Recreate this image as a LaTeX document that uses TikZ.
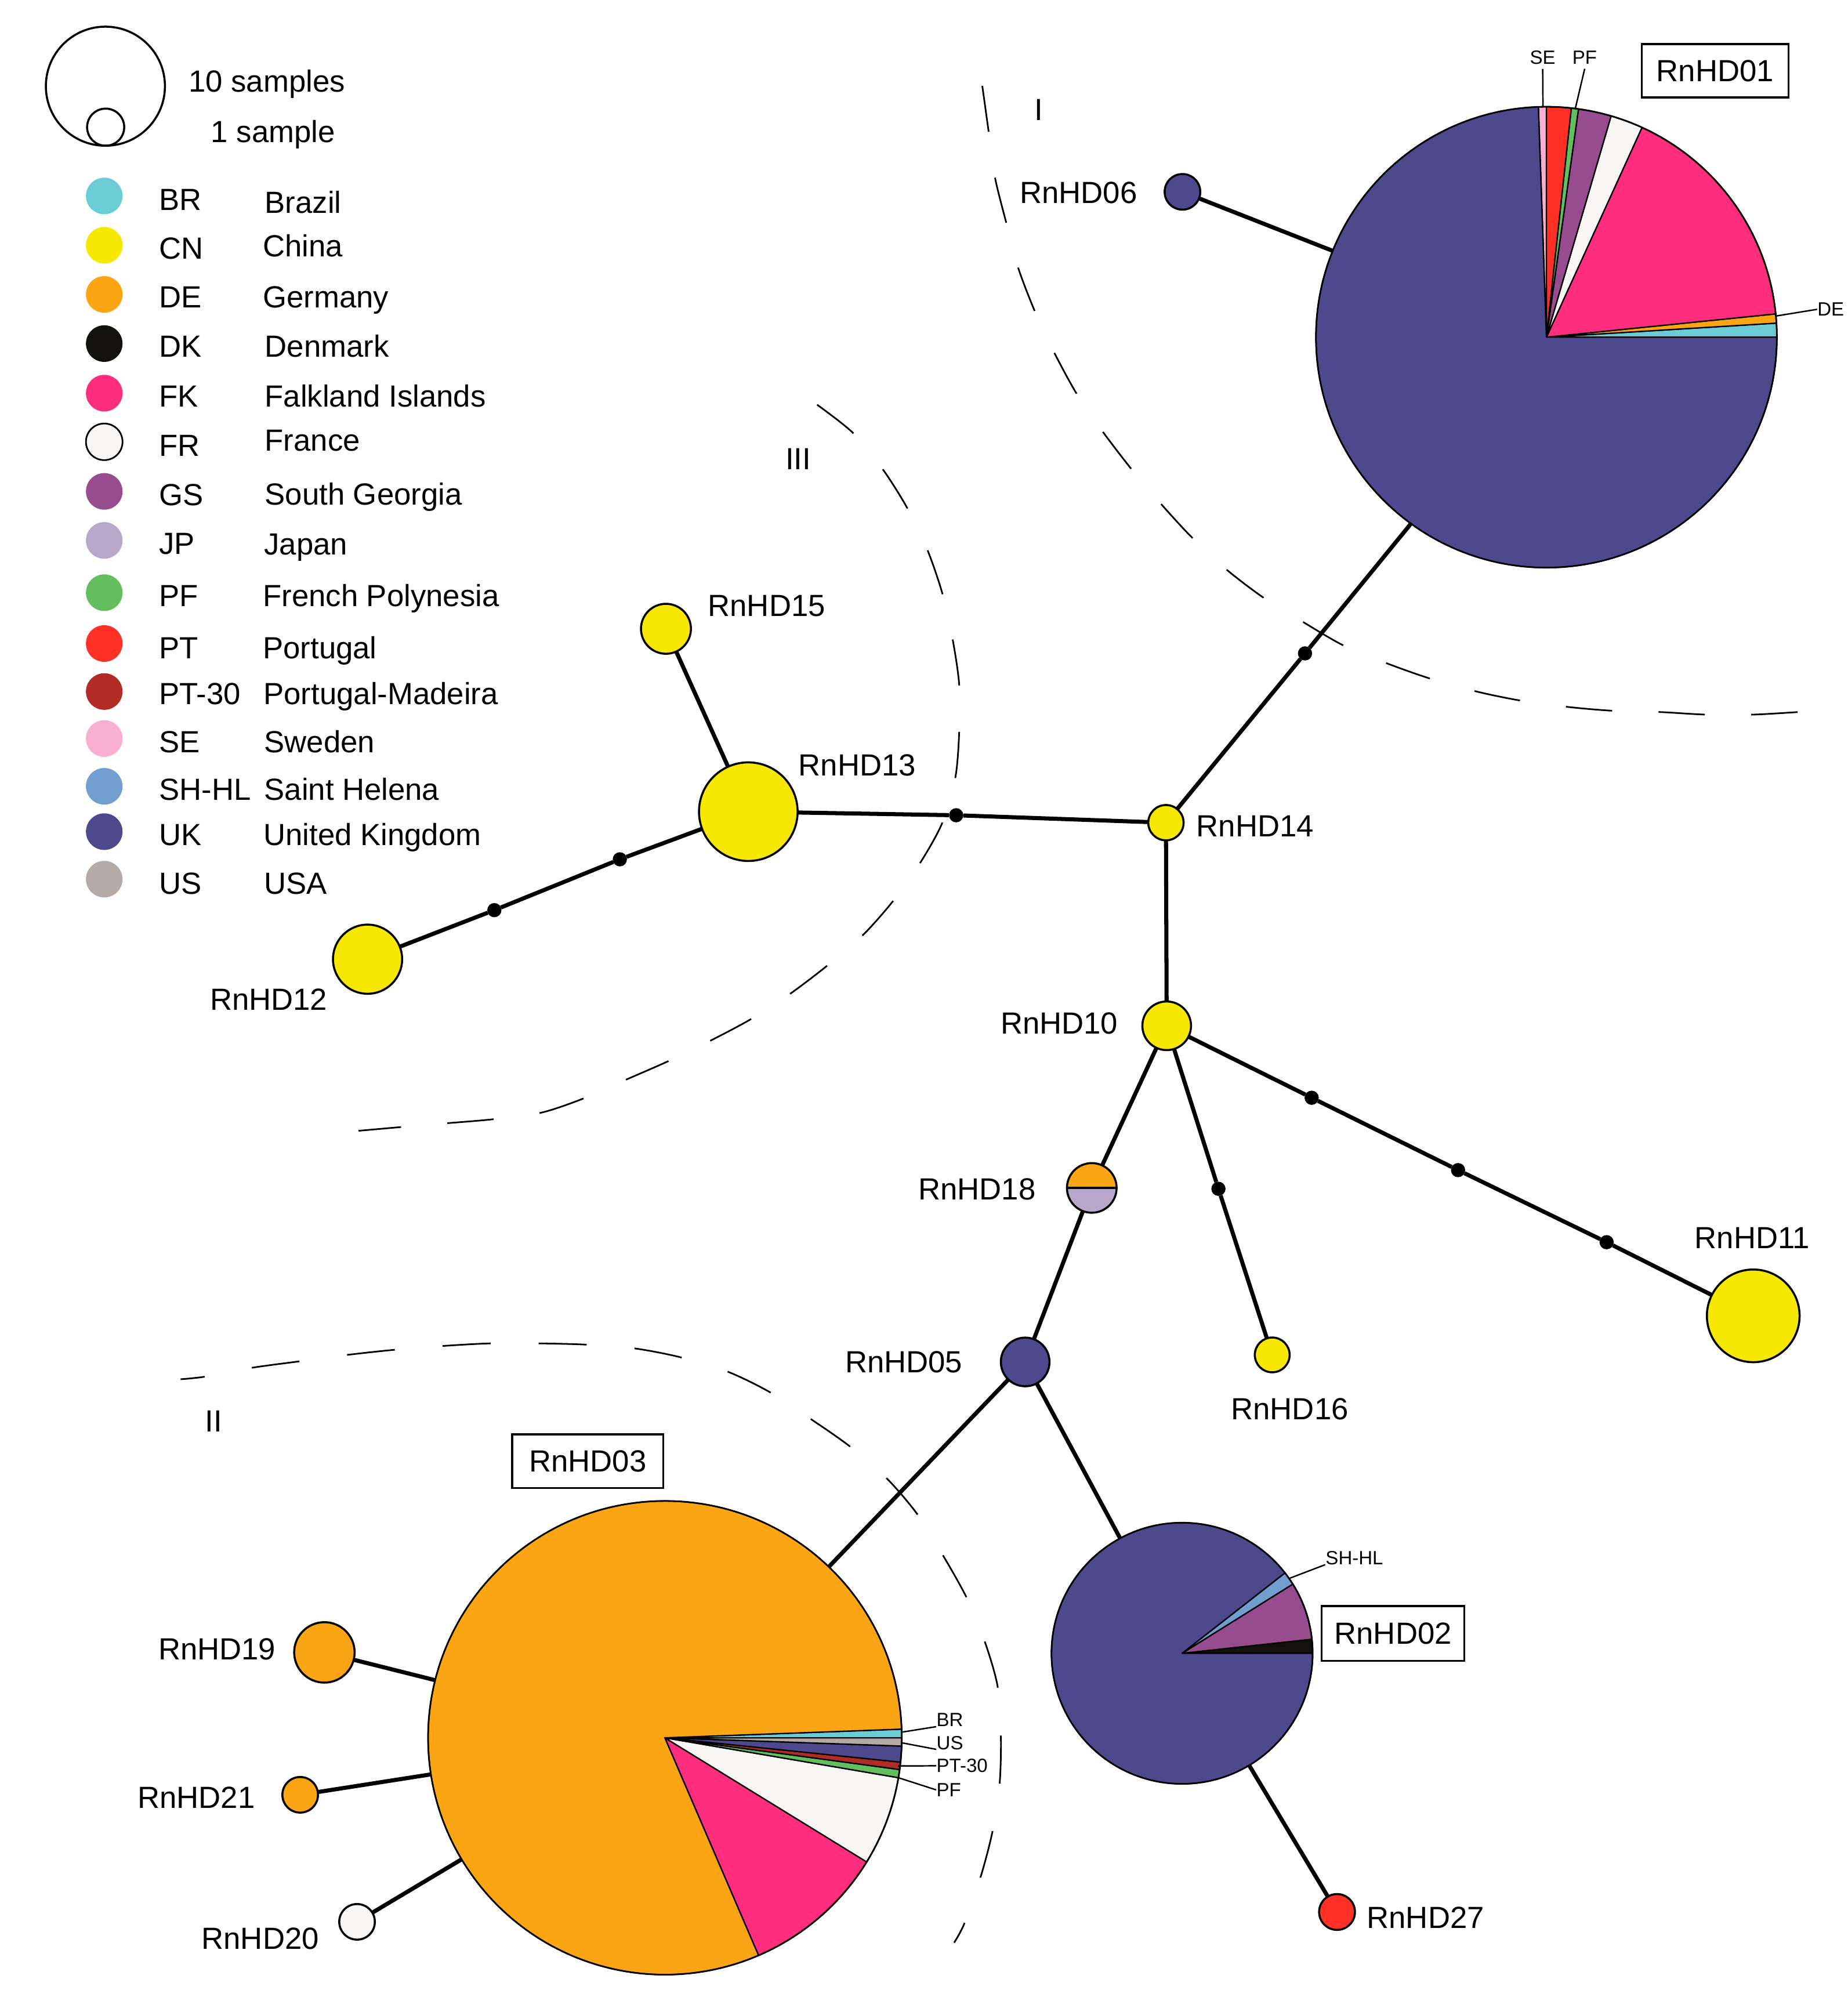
\documentclass[tikz,border=0pt]{standalone}
\usepackage{fontspec}
\setmainfont{Liberation Sans}
\definecolor{cBR}{HTML}{6BCCD6}
\definecolor{cCN}{HTML}{F7E800}
\definecolor{cDE}{HTML}{FBA414}
\definecolor{cDK}{HTML}{12110D}
\definecolor{cFK}{HTML}{FF2D7D}
\definecolor{cFR}{HTML}{F8F5F5}
\definecolor{cGS}{HTML}{974C8F}
\definecolor{cJP}{HTML}{B9A6CB}
\definecolor{cPF}{HTML}{63BF5D}
\definecolor{cPT}{HTML}{FF3026}
\definecolor{cPTM}{HTML}{B22B24}
\definecolor{cSE}{HTML}{F7AFD0}
\definecolor{cSH}{HTML}{6F9ECF}
\definecolor{cUK}{HTML}{4C4A8C}
\definecolor{cUS}{HTML}{B6AAA6}
\newcommand{\pslice}[5]{\filldraw[pieline, fill=#5] (#1) -- ++(#3:#2) arc[start angle=#3, end angle=#4, radius=#2] -- cycle;}
\begin{document}
\begin{tikzpicture}[x=0.022072cm, y=-0.022072cm,
  hap/.style={circle, draw=black, line width=1pt, inner sep=0pt, outer sep=0pt},
  mut/.style={circle, fill=black, inner sep=0pt, outer sep=0pt, minimum size=0.245cm},
  edge/.style={line width=2pt},
  lbl/.style={font=\fontsize{15pt}{18pt}\selectfont, inner sep=0pt, anchor=base west},
  lble/.style={font=\fontsize{15pt}{18pt}\selectfont, inner sep=0pt, anchor=base east},
  slbl/.style={font=\fontsize{9.4pt}{11pt}\selectfont, inner xsep=0pt, inner ysep=2pt, anchor=base west},
  hdbox/.style={draw=black, line width=1pt, font=\fontsize{15pt}{18pt}\selectfont, inner sep=0pt},
  arcdash/.style={line width=0.8pt, dash pattern=on 0.80cm off 0.80cm},
  lead/.style={line width=0.7pt},
  pieline/.style={draw=black, line width=0.65pt, line join=round},
  legc/.style={circle, inner sep=0pt, outer sep=0pt, minimum size=0.631cm}]

% canvas
\fill[white] (0,0) rectangle (1443,1568);
\useasboundingbox (0,0) rectangle (1443,1568);

% ---------- dashed group boundaries ----------
\draw[arcdash] plot[smooth, tension=0.5] coordinates {(767,67) (772,103) (777,139) (786,175) (795,209) (808,243) (823,275) (841,308) (861,337) (884,367) (907,394) (931,420) (958,445) (987,467) (1018,486) (1049,504) (1083,518) (1117,530) (1153,540) (1187,547) (1224,552) (1259,555) (1296,556) (1332,558) (1369,558) (1404,556)};
\draw[arcdash] plot[smooth, tension=0.5] coordinates {(638,316) (666,338) (689,366) (708,396) (724,429) (736,464) (744,500) (749,535) (749,571) (746,607) (736,642) (719,673) (697,704) (673,731) (646,754) (617,776) (586,796) (554,813) (521,829) (489,843) (455,858) (422,869) (385,874) (350,877) (314,880) (280,883)};
\draw[arcdash, dash pattern=on 0.828cm off 0.828cm, dash phase=0.41cm] plot[smooth, tension=0.5] coordinates {(141,1077) (160,1075) (197,1068) (234,1063) (271,1058) (308,1054) (346,1051) (383,1049) (420,1049) (458,1050) (496,1053) (532,1060) (568,1071) (601,1087) (633,1108) (663,1129) (692,1154) (716,1182) (736,1214) (755,1248) (769,1282) (779,1317) (781.5,1354) (780.6,1392) (775,1430) (765.6,1466) (753,1502) (745,1517)};

\node[lbl] (gI) at (807.3,93.8) {I};
\node[lbl] (gIII) at (613,366.7) {III};
\node[lbl] (gII) at (160,1118.2) {II};

% ---------- legend ----------
\node[circle, draw=black, line width=1pt, inner sep=0pt, minimum size=2.053cm] (leg10) at (82.3,67.3) {};
\node[circle, draw=black, line width=1pt, inner sep=0pt, minimum size=0.640cm] (leg1) at (82.5,99.3) {};
\node[lbl] (t10) at (147,71.8) {10 samples};
\node[lbl] (t1) at (164.5,111.2) {1 sample};

\node[legc, fill=cBR] (lcBR) at (81.4,153) {};
\node[lbl] (kBR) at (124,164) {BR};
\node[lbl] (nBR) at (206.5,166.3) {Brazil};
\node[legc, fill=cCN] (lcCN) at (81.4,191.5) {};
\node[lbl] (kCN) at (124,202.3) {CN};
\node[lbl] (nCN) at (205,200.3) {China};
\node[legc, fill=cDE] (lcDE) at (81.4,229.9) {};
\node[lbl] (kDE) at (124,240.3) {DE};
\node[lbl] (nDE) at (205,240.3) {Germany};
\node[legc, fill=cDK] (lcDK) at (81.4,268.3) {};
\node[lbl] (kDK) at (124,278.7) {DK};
\node[lbl] (nDK) at (206.5,278.7) {Denmark};
\node[legc, fill=cFK] (lcFK) at (81.4,307) {};
\node[lbl] (kFK) at (124,317.5) {FK};
\node[lbl] (nFK) at (206.5,317.5) {Falkland Islands};
\node[legc, fill=cFR, draw=black, line width=0.8pt] (lcFR) at (81.4,345) {};
\node[lbl] (kFR) at (124,356.2) {FR};
\node[lbl] (nFR) at (206.5,352.3) {France};
\node[legc, fill=cGS] (lcGS) at (81.4,383.7) {};
\node[lbl] (kGS) at (124,394.6) {GS};
\node[lbl] (nGS) at (206.5,394.3) {South Georgia};
\node[legc, fill=cJP] (lcJP) at (81.4,422) {};
\node[lbl] (kJP) at (124,432.9) {JP};
\node[lbl] (nJP) at (206,433) {Japan};
\node[legc, fill=cPF] (lcPF) at (81.4,462.8) {};
\node[lbl] (kPF) at (124,473.7) {PF};
\node[lbl] (nPF) at (205,473.7) {French Polynesia};
\node[legc, fill=cPT] (lcPT) at (81.4,502.5) {};
\node[lbl] (kPT) at (124,514.3) {PT};
\node[lbl] (nPT) at (205,514.3) {Portugal};
\node[legc, fill=cPTM] (lcPTM) at (81.4,540) {};
\node[lbl] (kPTM) at (124,550) {PT-30};
\node[lbl] (nPTM) at (205.5,550) {Portugal-Madeira};
\node[legc, fill=cSE] (lcSE) at (81.4,576.7) {};
\node[lbl] (kSE) at (124,587.6) {SE};
\node[lbl] (nSE) at (206,587.6) {Sweden};
\node[legc, fill=cSH] (lcSH) at (81.4,614) {};
\node[lbl] (kSH) at (124,624.8) {SH-HL};
\node[lbl] (nSH) at (206,624.8) {Saint Helena};
\node[legc, fill=cUK] (lcUK) at (81.4,649.4) {};
\node[lbl] (kUK) at (124,660) {UK};
\node[lbl] (nUK) at (205.5,660) {United Kingdom};
\node[legc, fill=cUS] (lcUS) at (81.4,686.5) {};
\node[lbl] (kUS) at (124,698.2) {US};
\node[lbl] (nUS) at (206,698.2) {USA};

% ---------- RnHD01 pie ----------
\coordinate (c01) at (1207.5,263.3);
\pslice{c01}{3.973cm}{0}{3.5}{cBR}
\pslice{c01}{3.973cm}{3.5}{5.8}{cDE}
\pslice{c01}{3.973cm}{5.8}{65.5}{cFK}
\pslice{c01}{3.973cm}{65.5}{73.7}{cFR}
\pslice{c01}{3.973cm}{73.7}{82}{cGS}
\pslice{c01}{3.973cm}{82}{83.8}{cPF}
\pslice{c01}{3.973cm}{83.8}{90}{cPT}
\pslice{c01}{3.973cm}{90}{92}{cSE}
\pslice{c01}{3.973cm}{92}{360}{cUK}
\node[hap, line width=0.8pt, minimum size=7.946cm] (n01) at (c01) {};

% ---------- RnHD03 pie ----------
\coordinate (c03) at (519.2,1357);
\pslice{c03}{4.083cm}{0}{2.1}{cBR}
\pslice{c03}{4.083cm}{2.1}{293.3}{cDE}
\pslice{c03}{4.083cm}{293.3}{328.4}{cFK}
\pslice{c03}{4.083cm}{328.4}{350.3}{cFR}
\pslice{c03}{4.083cm}{350.3}{352.3}{cPF}
\pslice{c03}{4.083cm}{352.3}{354.1}{cPTM}
\pslice{c03}{4.083cm}{354.1}{358}{cUK}
\pslice{c03}{4.083cm}{358}{360}{cUS}
\node[hap, line width=0.8pt, minimum size=8.167cm] (n03) at (c03) {};

% ---------- RnHD02 pie ----------
\coordinate (c02) at (923,1291);
\pslice{c02}{2.251cm}{0}{6.2}{cDK}
\pslice{c02}{2.251cm}{6.2}{32}{cGS}
\pslice{c02}{2.251cm}{32}{38}{cSH}
\pslice{c02}{2.251cm}{38}{360}{cUK}
\node[hap, line width=0.8pt, minimum size=4.503cm] (n02) at (c02) {};

% ---------- small haplotypes ----------
\node[hap, fill=cUK, minimum size=0.614cm] (n06) at (923.3,149.8) {};
\node[hap, fill=cCN, minimum size=0.609cm] (n14) at (910.4,642.4) {};
\node[hap, fill=cCN, minimum size=1.700cm] (n13) at (584.3,633.8) {};
\node[hap, fill=cCN, minimum size=0.861cm] (n15) at (520,491) {};
\node[hap, fill=cCN, minimum size=1.192cm] (n12) at (287,749) {};
\node[hap, fill=cCN, minimum size=0.839cm] (n10) at (911,801) {};
\node[hap, fill=cCN, minimum size=1.598cm] (n11) at (1369,1027.5) {};
\node[hap, fill=cCN, minimum size=0.600cm] (n16) at (993.4,1058) {};
\node[hap, minimum size=0.856cm, path picture={
  \fill[cDE] (path picture bounding box.north west) rectangle (path picture bounding box.east);
  \fill[cJP] (path picture bounding box.west) rectangle (path picture bounding box.south east);
  \draw[line width=1pt] (path picture bounding box.west) -- (path picture bounding box.east);
}] (n18) at (852.5,927.6) {};
\node[hap, fill=cUK, minimum size=0.839cm] (n05) at (800.5,1063.5) {};
\node[hap, fill=cPT, minimum size=0.618cm] (n27) at (1044,1493) {};
\node[hap, fill=cDE, minimum size=1.042cm] (n19) at (253.3,1290.3) {};
\node[hap, fill=cDE, minimum size=0.614cm] (n21) at (234.4,1401.5) {};
\node[hap, fill=cFR, minimum size=0.614cm] (n20) at (278.8,1500.7) {};

% ---------- mutation steps ----------
\node[mut] (m1) at (1019,510.2) {};
\node[mut] (m2) at (746.6,636.6) {};
\node[mut] (m3) at (386,710.7) {};
\node[mut] (m4) at (484,671) {};
\node[mut] (m5) at (1024.2,857.2) {};
\node[mut] (m6) at (1138.5,913.7) {};
\node[mut] (m7) at (1254.5,970) {};
\node[mut] (m8) at (951.4,928.3) {};

% ---------- edges ----------
\draw[edge] (n06) -- (n01.158.1);
\draw[edge] (n14) -- (m1) -- (n01.234.5);
\draw[edge] (n13) -- (m2) -- (n14);
\draw[edge] (n15) -- (n13);
\draw[edge] (n12) -- (m3) -- (m4) -- (n13);
\draw[edge] (n14) -- (n10);
\draw[edge] (n10) -- (m5) -- (m6) -- (m7) -- (n11);
\draw[edge] (n10) -- (m8) -- (n16);
\draw[edge] (n10) -- (n18);
\draw[edge] (n18) -- (n05);
\draw[edge] (n05) -- (n03);
\draw[edge] (n05) -- (n02);
\draw[edge] (n02) -- (n27);
\draw[edge] (n19) -- (n03);
\draw[edge] (n21) -- (n03);
\draw[edge] (n20) -- (n03);

% ---------- haplotype labels ----------
\node[lbl] (l06) at (796,158.6) {RnHD06};
\node[lbl] (l15) at (552.5,481) {RnHD15};
\node[lbl] (l13) at (623.3,605.7) {RnHD13};
\node[lbl] (l12) at (163.7,788.7) {RnHD12};
\node[lbl] (l14) at (934,653.5) {RnHD14};
\node[lbl] (l10) at (781,807.5) {RnHD10};
\node[lble] (l18) at (809,937) {RnHD18};
\node[lbl] (l16) at (961,1108.7) {RnHD16};
\node[lbl] (l11) at (1323,975) {RnHD11};
\node[lbl] (l05) at (659.6,1072) {RnHD05};
\node[lbl] (l27) at (1067,1505.5) {RnHD27};
\node[lbl] (l19) at (123.4,1296.2) {RnHD19};
\node[lbl] (l21) at (107.2,1412) {RnHD21};
\node[lbl] (l20) at (157.1,1522.2) {RnHD20};

\node[hdbox, minimum width=2.527cm, minimum height=0.916cm] (b01) at (1339.25,55.25) {RnHD01};
\node[hdbox, minimum width=2.605cm, minimum height=0.927cm] (b03) at (459,1141) {RnHD03};
\node[hdbox, minimum width=2.461cm, minimum height=0.949cm] (b02) at (1087.75,1275.5) {RnHD02};

% ---------- slice labels ----------
\node[slbl] (sSE) at (1194.3,50.2) {SE};
\node[slbl] (sPF1) at (1227.5,50.2) {PF};
\node[slbl] (sDE) at (1418.8,246.7) {DE};
\coordinate (pSE) at (1204.8,83.4);
\coordinate (pPF1) at (1230,85);
\coordinate (pDE) at (1387.2,246.7);
\draw[lead] (sSE.south) -- (pSE);
\draw[lead] (sPF1.south) -- (pPF1);
\draw[lead] (sDE.west) -- (pDE);

\node[slbl] (sBR) at (731,1348.3) {BR};
\node[slbl] (sUS) at (731,1366) {US};
\node[slbl] (sPT) at (731,1384) {PT-30};
\node[slbl] (sPF3) at (731,1402.8) {PF};
\coordinate (pBR) at (704,1352.6);
\coordinate (pUS) at (704.7,1361);
\coordinate (pPT) at (701.2,1379);
\coordinate (pPF3) at (701,1388);
\draw[lead] (sBR.base west) -- (pBR);
\draw[lead] (sUS.base west) -- (pUS);
\draw[lead] (sPT.west) -- (pPT);
\draw[lead] (sPF3.west) -- (pPF3);

\node[slbl] (sSH) at (1034.8,1221.8) {SH-HL};
\coordinate (pSH) at (1007.3,1232.3);
\draw[lead] (sSH.base west) -- (pSH);

\end{tikzpicture}
\end{document}
